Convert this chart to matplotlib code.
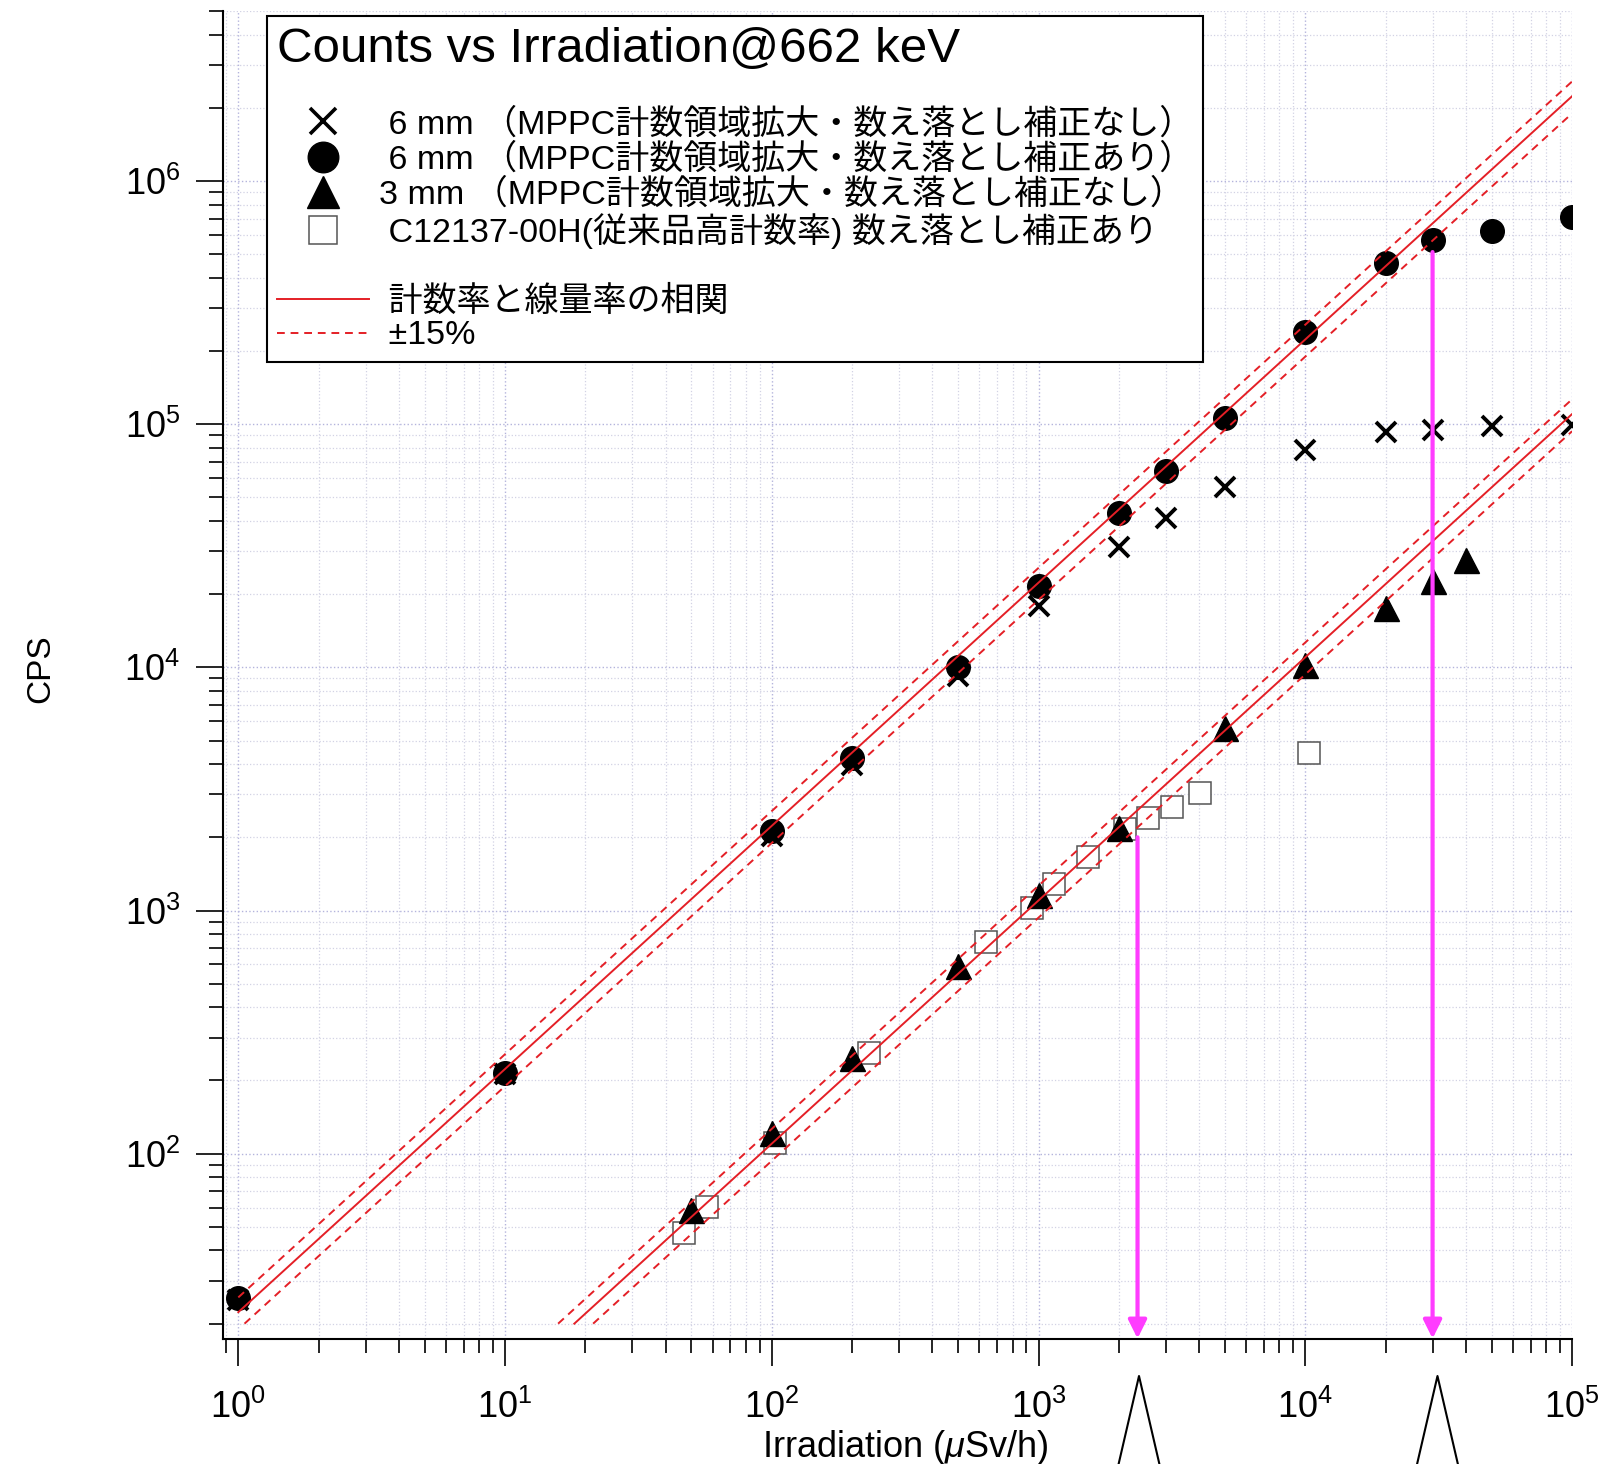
import numpy as np
import matplotlib
matplotlib.use("Agg")
import matplotlib.pyplot as plt
from matplotlib.lines import Line2D
import matplotlib.transforms as mtransforms

plt.rcParams['font.family'] = ['Liberation Sans', 'Noto Sans CJK JP', 'DejaVu Sans']
plt.rcParams['mathtext.fontset'] = 'custom'
plt.rcParams['mathtext.rm'] = 'Liberation Sans'
plt.rcParams['mathtext.it'] = 'Liberation Sans:italic'

# 6 mm MPPC, counts without / with dead-time correction
x6 = [1, 10, 100, 200, 500, 1000, 2000, 3000, 5000, 10000, 20000, 30000, 50000, 100000]
cps6_raw = [25, 213, 2020, 3980, 9180, 17800, 31200, 41100, 55400, 78000, 92900, 94900, 97900, 98900]
cps6_corr = [25.6, 215, 2115, 4240, 10030, 21500, 43100, 63900, 106000, 240000, 462000, 573000, 620000, 714000]

# 3 mm MPPC, no correction
x3 = [50, 100, 200, 500, 1000, 2000, 5000, 10000, 20000, 30000, 40000]
cps3 = [58.9, 122, 248, 589, 1162, 2183, 5630, 10260, 17500, 22600, 27700]

# C12137-00H, corrected
xc = [47, 57.3, 103, 232, 635, 948, 1138, 1527, 2113, 2577, 3177, 4015, 10310]
cpsc = [47.2, 60.1, 111, 259, 740, 1024, 1285, 1660, 2170, 2400, 2655, 3040, 4450]

# correlation lines cps = k * dose, +-15 %
k6 = 22.3
k3 = 1.1
band = 0.15
line_ymin = 20
line_xmax = 1e5

# magenta markers
arrow_x = [2350, 30000]
arrow_y0 = [2000, 510000]
peak_x = [2380, 31300]

labels = [
    " 6 mm （MPPC計数領域拡大・数え落とし補正なし）",
    " 6 mm （MPPC計数領域拡大・数え落とし補正あり）",
    "3 mm （MPPC計数領域拡大・数え落とし補正なし）",
    " C12137-00H(従来品高計数率) 数え落とし補正あり",
    " 計数率と線量率の相関",
    " ±15%",
]
title = "Counts vs Irradiation@662 keV"

red = '#e41f26'
magenta = '#ff3cff'

fig = plt.figure(figsize=(16.22, 14.64), dpi=100)
ax = fig.add_axes([0.1373, 0.0854, 0.9692 - 0.1373, 0.9925 - 0.0854])
ax.set_xscale('log')
ax.set_yscale('log')
ax.set_xlim(0.874, 1e5)
ax.set_ylim(17.3, 5e6)

ax.plot(xc, cpsc, 's', ms=16.5, mfc='white', mec='#555555', mew=1.1, zorder=3)
ax.plot(x6, cps6_raw, 'x', ms=15, color='k', mew=2.8, zorder=3.1)
ax.plot(x3, cps3, '^', ms=18, color='k', zorder=3.2)
ax.plot(x6, cps6_corr, 'o', ms=17, color='k', zorder=3.3)

for k in (k6, k3):
    for f, ls in ((1.0, '-'), (1 + band, '--'), (1 - band, '--')):
        xs = np.array([max(1.0, line_ymin / (k * f)), line_xmax])
        ax.plot(xs, k * f * xs, ls=ls, color=red, lw=1.4, dashes=(4, 3) if ls == '--' else (None, None), zorder=4)

ymin = ax.get_ylim()[0]
for xa, ya in zip(arrow_x, arrow_y0):
    ax.annotate('', xy=(xa, ymin * 1.004), xytext=(xa, ya),
                arrowprops=dict(arrowstyle='-|>,head_length=1.1,head_width=0.55',
                                color=magenta, lw=3, shrinkA=0, shrinkB=0,
                                mutation_scale=10),
                zorder=5, annotation_clip=False)

# peaks below the axis
trans = mtransforms.blended_transform_factory(ax.transData, fig.transFigure)
for px in peak_x:
    ax.plot([px / 1.21, px, px * 1.21], [-0.005, 0.0601, -0.005], color='k', lw=1.5,
            transform=trans, clip_on=False)

# axes style
for s in ('top', 'right'):
    ax.spines[s].set_visible(False)
for s in ('left', 'bottom'):
    ax.spines[s].set_linewidth(1.5)
ax.tick_params(which='major', length=19.5, width=1.2, direction='out', labelsize=26)
ax.tick_params(which='minor', length=10, width=1.2, direction='out')
ax.tick_params(axis='x', which='major', pad=17)
ax.tick_params(axis='y', which='major', pad=11)
ax.xaxis.set_major_locator(matplotlib.ticker.LogLocator(base=10, numticks=20))
ax.xaxis.set_minor_locator(matplotlib.ticker.LogLocator(base=10, subs=np.arange(2, 10), numticks=20))
ax.yaxis.set_major_locator(matplotlib.ticker.LogLocator(base=10, numticks=20))
ax.yaxis.set_minor_locator(matplotlib.ticker.LogLocator(base=10, subs=np.arange(2, 10), numticks=20))
ax.xaxis.set_minor_formatter(matplotlib.ticker.NullFormatter())
ax.yaxis.set_minor_formatter(matplotlib.ticker.NullFormatter())

ax.set_axisbelow(True)
ax.grid(which='major', color='#b4b4dc', ls=':', lw=1.0)
ax.grid(which='minor', color='#d2d2e4', ls=':', lw=0.9)

ax.set_xlabel(r'Irradiation ($\mu$Sv/h)', fontsize=26)
ax.xaxis.set_label_coords(0.5057, -0.0815)
ax.xaxis.label.set_va('center')
ax.set_ylabel('CPS', fontsize=24)
ax.yaxis.set_label_coords(-0.1347, 0.5045)
ax.yaxis.label.set_va('center')

# legend
blank = Line2D([], [], ls='none')
handles = [
    blank,
    Line2D([], [], marker='x', ls='none', color='k', ms=19, mew=2.6),
    Line2D([], [], marker='o', ls='none', color='k', ms=22),
    Line2D([], [], marker='^', ls='none', color='k', ms=23),
    Line2D([], [], marker='s', ls='none', mfc='white', mec='#555555', mew=1.1, ms=20),
    blank,
    Line2D([], [], color=red, lw=1.4),
    Line2D([], [], color=red, lw=1.4, ls='--', dashes=(4, 3)),
]
leg_labels = [' '] + labels[:4] + [' '] + labels[4:]
leg = ax.legend(handles, leg_labels, loc='upper left', bbox_to_anchor=(0.033, 0.996),
                borderaxespad=0, fontsize=24.5, title=title, title_fontsize=35.5,
                alignment='left', fancybox=False, edgecolor='k', framealpha=1,
                handlelength=2.7, handletextpad=0.28, labelspacing=0.08,
                borderpad=0.3)
leg.get_frame().set_linewidth(1.5)

fig.savefig('out.png', dpi=100)
